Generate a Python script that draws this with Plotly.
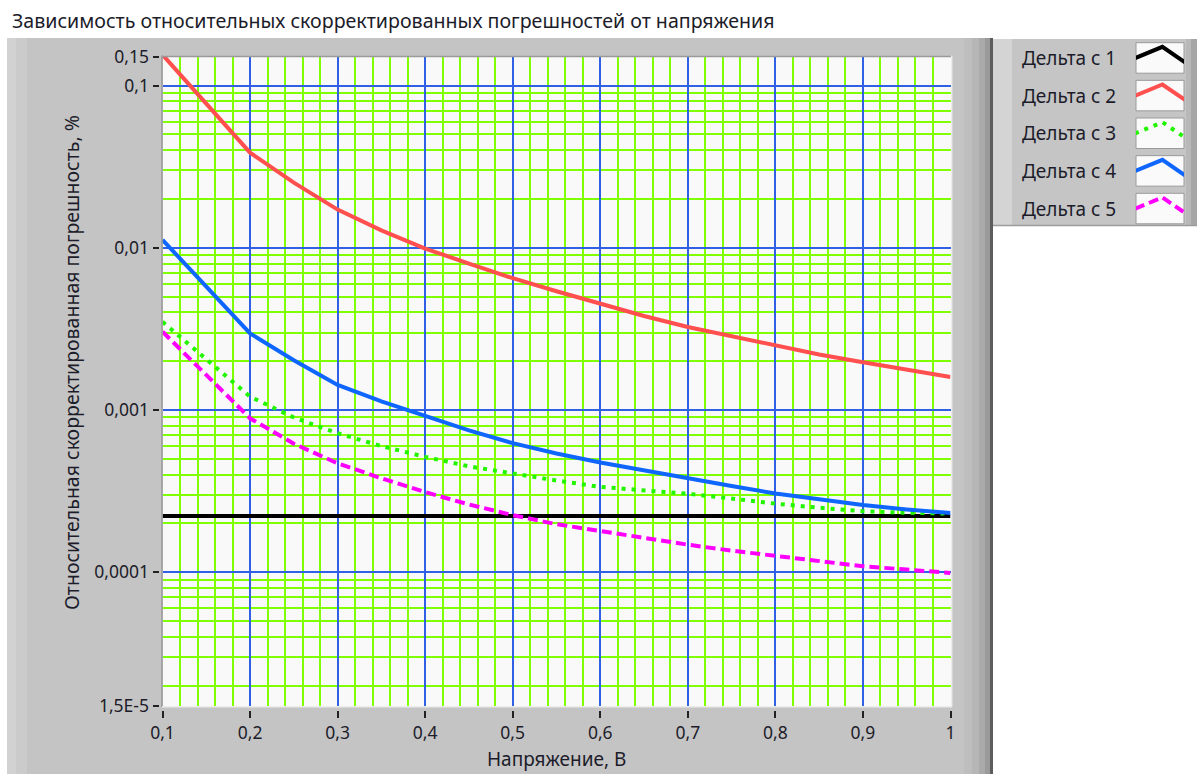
import plotly.graph_objects as go

W, H = 1200, 774

# ---- data -------------------------------------------------------------
VOLTAGE = [0.1, 0.2, 0.25, 0.3, 0.35, 0.4, 0.45, 0.5, 0.55, 0.6,
           0.65, 0.7, 0.75, 0.8, 0.85, 0.9, 0.95, 1.0]

DELTA_1 = [0.000222] * len(VOLTAGE)
DELTA_2 = [0.155, 0.0386, 0.0252, 0.0172, 0.0128, 0.0099, 0.0080, 0.0065,
           0.0054, 0.0045, 0.0038, 0.00325, 0.00285, 0.0025, 0.0022,
           0.00197, 0.00177, 0.0016]
DELTA_3 = [0.0035, 0.00121, 0.00090, 0.00072, 0.00060, 0.000515, 0.00045,
           0.000405, 0.000368, 0.000336, 0.00032, 0.000305, 0.000285,
           0.000265, 0.00025, 0.000238, 0.000233, 0.00023]
DELTA_4 = [0.0112, 0.00297, 0.00203, 0.00143, 0.00113, 0.00092, 0.00075,
           0.000625, 0.00054, 0.000475, 0.000423, 0.00038, 0.00034,
           0.000306, 0.000282, 0.00026, 0.000244, 0.000232]
DELTA_5 = [0.00304, 0.00089, 0.00062, 0.00047, 0.00038, 0.000312, 0.000262,
           0.000225, 0.000198, 0.000179, 0.000162, 0.000148, 0.000136,
           0.000126, 0.000117, 0.000109, 0.000104, 0.0000991]

SERIES_NAMES = ["Дельта с 1", "Дельта с 2", "Дельта с 3", "Дельта с 4", "Дельта с 5"]

X_TICKS = [0.1, 0.2, 0.3, 0.4, 0.5, 0.6, 0.7, 0.8, 0.9, 1.0]
X_TICK_TEXT = ["0,1", "0,2", "0,3", "0,4", "0,5", "0,6", "0,7", "0,8", "0,9", "1"]
X_MINOR = [0.12, 0.14, 0.16, 0.18, 0.22, 0.24, 0.26, 0.28, 0.32, 0.34, 0.36, 0.38,
           0.42, 0.44, 0.46, 0.48, 0.52, 0.54, 0.56, 0.58, 0.62, 0.64, 0.66, 0.68,
           0.72, 0.74, 0.76, 0.78, 0.82, 0.84, 0.86, 0.88, 0.92, 0.94, 0.96, 0.98]

Y_TICKS = [1.5e-5, 1e-4, 1e-3, 1e-2, 0.1, 0.15]
Y_TICK_TEXT = ["1,5E-5", "0,0001", "0,001", "0,01", "0,1", "0,15"]
Y_MINOR = [m * 10.0 ** e for e in (-5, -4, -3, -2, -1) for m in range(2, 10)]
Y_MINOR = [v for v in Y_MINOR if 1.5e-5 < v < 0.15]

TITLE = "Зависимость относительных скорректированных погрешностей от напряжения"
X_TITLE = "Напряжение, В"
Y_TITLE = "Относительная скорректированная погрешность, %"

# ---- styles -----------------------------------------------------------
COLORS = ["#000000", "#ff4f4f", "#22f500", "#0f66ff", "#ff00ff"]
DASHES = ["solid", "solid", "4px,6px", "solid", "10px,5px"]
WIDTHS = [4, 4, 4, 4, 4]

FONT = "Noto Sans"
TEXT_COLOR = "#1c1c2a"
GREEN = "#80ff00"
BLUE = "#2f60e6"


def fx(px):
    return px / W


def fy(py):
    return 1 - py / H


PLOT_L, PLOT_R, PLOT_T, PLOT_B = 162.5, 950.5, 57.0, 706.0

fig = go.Figure()

series = [DELTA_1, DELTA_2, DELTA_3, DELTA_4, DELTA_5]
for name, vals, col, dash, w in zip(SERIES_NAMES, series, COLORS, DASHES, WIDTHS):
    fig.add_trace(go.Scatter(
        x=VOLTAGE, y=vals, name=name, mode="lines",
        line=dict(color=col, width=w, dash=dash),
        xaxis="x", yaxis="y", showlegend=False,
    ))

# legend glyphs: small chevrons in their own tiny axes
GLYPH_X = [-0.02, 0.55, 1.02]
GLYPH_DY = [0.41, 0.11, 0.52]
for k, (name, col, dash, w) in enumerate(zip(SERIES_NAMES, COLORS, DASHES, WIDTHS)):
    fig.add_trace(go.Scatter(
        x=GLYPH_X, y=[k + d for d in GLYPH_DY], mode="lines",
        line=dict(color=col, width=w, dash=dash),
        xaxis="x3", yaxis="y3", showlegend=False, hoverinfo="skip",
    ))

shapes = []


def rect(x0, y0, x1, y1, fill, line=None, lw=0, layer="below"):
    shapes.append(dict(type="rect", xref="paper", yref="paper",
                       x0=fx(x0), x1=fx(x1), y0=fy(y1), y1=fy(y0),
                       fillcolor=fill, line=dict(color=line or fill, width=lw),
                       layer=layer))


def hline(x0, x1, y, color, width, layer="above"):
    shapes.append(dict(type="line", xref="paper", yref="paper",
                       x0=fx(x0), x1=fx(x1), y0=fy(y), y1=fy(y),
                       line=dict(color=color, width=width), layer=layer))


def vline(x, y0, y1, color, width, layer="above"):
    shapes.append(dict(type="line", xref="paper", yref="paper",
                       x0=fx(x), x1=fx(x), y0=fy(y0), y1=fy(y1),
                       line=dict(color=color, width=width), layer=layer))


# panel frame
rect(7, 38, 990, 774, "#c4c4c4")
rect(7, 38, 16, 774, "#d2d2d2")
rect(16, 38, 27, 774, "#cbcbcb")
rect(964, 38, 972, 774, "#bebebe")
rect(972, 38, 979, 774, "#b6b6b6")
rect(979, 38, 985, 774, "#aaaaaa")
rect(985, 38, 990, 774, "#9a9a9a")
rect(990, 38, 993, 774, "#5c5c5c")

# legend panel
rect(993, 39, 1197, 226, "#c5c5c5")
rect(993, 39, 1012, 226, "#d4d4d4")
rect(1186, 39, 1191, 226, "#b8b8b8")
rect(1191, 39, 1197, 226, "#a6a6a6")
hline(993, 1197, 225.5, "#9c9c9c", 1.5, layer="below")

ROW_TOP = 42.7
ROW_PITCH = 37.65
ROW_H = 30.5
for k in range(5):
    top = ROW_TOP + k * ROW_PITCH
    rect(1136, top, 1184, top + ROW_H, "#fafafa", line="#9a9a9a", lw=1)

# plot background
rect(PLOT_L - 1, PLOT_T - 1, PLOT_R + 1.5, PLOT_B + 1, "#f9f9f9")

# plot edges
vline(PLOT_L - 0.5, PLOT_T - 1.5, PLOT_B + 1, "#8c8c8c", 1.5)
hline(PLOT_L - 0.5, PLOT_R + 1.5, PLOT_T - 0.5, "#9a9a9a", 1.5)
hline(PLOT_L - 0.5, PLOT_R + 1.5, PLOT_B + 0.8, "#ececec", 1.5)
vline(PLOT_R + 1.2, PLOT_T - 1.5, PLOT_B + 1, "#ececec", 1.5)

annotations = [
    dict(text=TITLE, x=fx(10), y=fy(20), xanchor="left", yanchor="middle",
         xref="paper", yref="paper", showarrow=False,
         font=dict(family=FONT, size=19.6, color=TEXT_COLOR)),
    dict(text=X_TITLE, x=fx(556), y=fy(759), xanchor="center", yanchor="middle",
         xref="paper", yref="paper", showarrow=False,
         font=dict(family=FONT, size=19, color=TEXT_COLOR)),
    dict(text=Y_TITLE, x=fx(72), y=fy(363), xanchor="center", yanchor="middle",
         xref="paper", yref="paper", showarrow=False, textangle=-90,
         font=dict(family=FONT, size=19.5, color=TEXT_COLOR)),
]
for k, name in enumerate(SERIES_NAMES):
    annotations.append(dict(
        text=name, x=fx(1020), y=fy(ROW_TOP + k * ROW_PITCH + ROW_H / 2),
        xanchor="left", yanchor="middle", xref="paper", yref="paper",
        showarrow=False, font=dict(family=FONT, size=19, color=TEXT_COLOR)))

tick_font = dict(family=FONT, size=17.5, color=TEXT_COLOR)

fig.update_layout(
    width=W, height=H,
    margin=dict(l=0, r=0, t=0, b=0),
    paper_bgcolor="white",
    plot_bgcolor="rgba(0,0,0,0)",
    showlegend=False,
    shapes=shapes,
    annotations=annotations,
    xaxis=dict(
        domain=[fx(PLOT_L), fx(PLOT_R)],
        range=[0.1, 1.0], anchor="free", position=fy(PLOT_B + 4),
        tickmode="array", tickvals=X_TICKS, ticktext=X_TICK_TEXT,
        ticks="outside", ticklen=7, tickwidth=1.5, tickcolor="#222222",
        tickfont=tick_font, showline=False, zeroline=False,
        showgrid=True, gridcolor=BLUE, gridwidth=1.8,
        minor=dict(tickmode="array", tickvals=X_MINOR, showgrid=True,
                   gridcolor=GREEN, gridwidth=1.6, ticks=""),
        automargin=False, fixedrange=True,
    ),
    yaxis=dict(
        domain=[fy(PLOT_B), fy(PLOT_T)],
        type="log", range=[-4.823909, -0.823909],
        anchor="free", position=fx(PLOT_L - 4),
        tickmode="array", tickvals=Y_TICKS, ticktext=Y_TICK_TEXT,
        ticks="outside", ticklen=6, tickwidth=1.5, tickcolor="#222222",
        tickfont=tick_font, showline=False, zeroline=False,
        showgrid=True, gridcolor=BLUE, gridwidth=1.8,
        minor=dict(tickmode="array", tickvals=Y_MINOR, showgrid=True,
                   gridcolor=GREEN, gridwidth=1.6, ticks=""),
        automargin=False, fixedrange=True,
    ),
    xaxis3=dict(domain=[fx(1136), fx(1184)], range=[0, 1], visible=False,
                anchor="y3", fixedrange=True),
    yaxis3=dict(domain=[fy(ROW_TOP + 4 * ROW_PITCH + ROW_H), fy(ROW_TOP)],
                range=[4 + ROW_H / ROW_PITCH, 0], visible=False,
                anchor="x3", fixedrange=True),
)

fig.write_html("out.html", config={"displayModeBar": False})
